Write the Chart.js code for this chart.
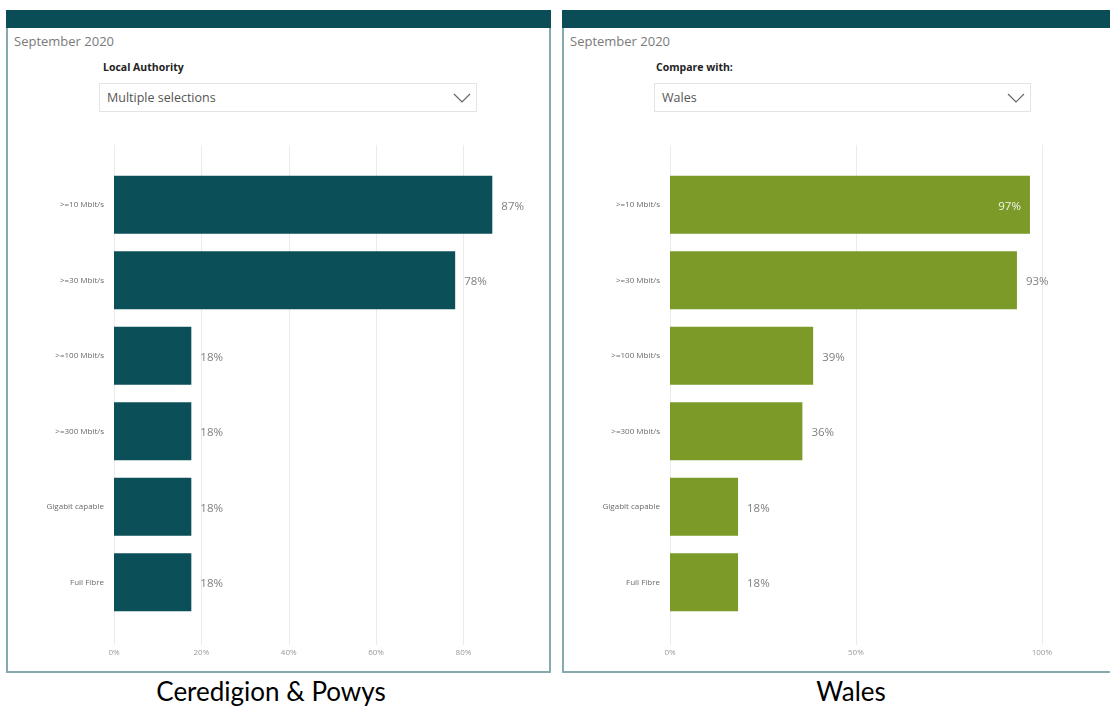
<!DOCTYPE html>
<html>
<head>
<meta charset="utf-8">
<script src="https://cdn.jsdelivr.net/npm/chart.js@4"></script>
<style>
  html, body { margin:0; padding:0; background:#fff; width:1110px; height:706px; overflow:hidden; font-family:"Open Sans", sans-serif; }
  .panel { position:absolute; border:2px solid #86aab0; box-sizing:border-box; background:#fff; }
  .hdr { position:absolute; left:-2px; right:-2px; top:-2px; height:18px; background:#0b4d57; }
  .date { position:absolute; font-size:13px; color:#7a7a7a; }
  .lbl { position:absolute; font-size:10.5px; font-weight:bold; color:#222; }
  .dd { position:absolute; border:1px solid #e4e4e4; box-sizing:border-box; height:29px; }
  .dd span { position:absolute; left:7px; top:5px; font-size:12.5px; color:#555; }
  .dd svg { position:absolute; right:5px; top:9px; }
  .cv { position:absolute; }
  .title { position:absolute; font-family:Lato, sans-serif; font-size:26px; color:#000; transform:translateX(-50%); white-space:nowrap; }
</style>
</head>
<body>
<div class="panel" style="left:6px; top:10px; width:545px; height:663px;">
  <div class="hdr"></div>
</div>
<div class="panel" style="left:562px; top:10px; width:552px; height:663px;">
  <div class="hdr"></div>
</div>

<div class="date" style="left:14px; top:32px;">September 2020</div>
<div class="lbl" style="left:103px; top:60px;">Local Authority</div>
<div class="dd" style="left:99px; top:83px; width:378px;"><span>Multiple selections</span>
  <svg width="18" height="10"><polyline points="1,1 9,9 17,1" fill="none" stroke="#666" stroke-width="1.2"/></svg></div>

<div class="date" style="left:570px; top:32px;">September 2020</div>
<div class="lbl" style="left:656px; top:60px;">Compare with:</div>
<div class="dd" style="left:654px; top:83px; width:377px;"><span>Wales</span>
  <svg width="18" height="10"><polyline points="1,1 9,9 17,1" fill="none" stroke="#666" stroke-width="1.2"/></svg></div>

<canvas id="c1" class="cv" style="left:8px; top:140px;" width="540" height="528"></canvas>
<canvas id="c2" class="cv" style="left:564px; top:140px;" width="544" height="528"></canvas>

<div class="title" style="left:271px; top:675px;">Ceredigion &amp; Powys</div>
<div class="title" style="left:851px; top:675px;">Wales</div>

<script>
const categories = [">=10 Mbit/s", ">=30 Mbit/s", ">=100 Mbit/s", ">=300 Mbit/s", "Gigabit capable", "Full Fibre"];
const ceredigionPowys = [86.6, 78.1, 17.7, 17.7, 17.7, 17.7];
const wales = [96.8, 93.3, 38.5, 35.6, 18.3, 18.3];
const leftTicks = [0, 20, 40, 60, 80];
const rightTicks = [0, 50, 100];

const gridPlugin = {
  id: 'extGrid',
  beforeDatasetsDraw(chart) {
    const ctx = chart.ctx, x = chart.scales.x, a = chart.chartArea;
    ctx.save();
    ctx.strokeStyle = '#ebebeb';
    ctx.lineWidth = 1;
    x.ticks.forEach(t => {
      const px = Math.round(x.getPixelForValue(t.value)) + 0.5;
      ctx.beginPath();
      ctx.moveTo(px, a.top - 22);
      ctx.lineTo(px, a.bottom + 25);
      ctx.stroke();
    });
    ctx.restore();
  }
};

const labelPlugin = {
  id: 'valLabels',
  afterDatasetsDraw(chart) {
    const ctx = chart.ctx, a = chart.chartArea;
    const meta = chart.getDatasetMeta(0);
    const data = chart.data.datasets[0].data;
    ctx.save();
    ctx.font = '11.5px "Open Sans", sans-serif';
    ctx.textBaseline = 'middle';
    meta.data.forEach((bar, i) => {
      const txt = Math.round(data[i]) + '%';
      const w = ctx.measureText(txt).width;
      let x = bar.x + 9;
      if (x + w > a.right) {
        x = bar.x - 9 - w;
        ctx.fillStyle = '#f3f3ea';
      } else {
        ctx.fillStyle = '#7f7f7f';
      }
      ctx.textAlign = 'left';
      ctx.fillText(txt, x, bar.y + 1.5);
    });
    ctx.restore();
  }
};

function makeChart(id, values, color, max, ticks, step, padRight) {
  return new Chart(document.getElementById(id), {
    type: 'bar',
    data: {
      labels: categories,
      datasets: [{ data: values, backgroundColor: color, barPercentage: 0.77, categoryPercentage: 1.0 }]
    },
    options: {
      indexAxis: 'y',
      responsive: false,
      animation: false,
      layout: { padding: { top: 27, right: padRight, left: 0, bottom: 0 } },
      plugins: { legend: { display: false }, tooltip: { enabled: false } },
      scales: {
        y: {
          grid: { display: false, drawTicks: false },
          border: { display: false },
          ticks: { padding: 10, color: '#6a6a6a', font: { family: '"Open Sans", sans-serif', size: 8 } },
          afterFit(s) { s.width = 106; }
        },
        x: {
          min: 0, max: max,
          grid: { display: false, drawTicks: false },
          border: { display: false },
          afterBuildTicks(s) { s.ticks = ticks.map(v => ({ value: v })); },
          ticks: {
            stepSize: step, includeBounds: false, padding: 28,
            color: '#9a9a9a', font: { family: '"Open Sans", sans-serif', size: 8 },
            maxRotation: 0,
            callback: v => v + '%'
          },
          afterFit(s) { s.height = 48; }
        }
      }
    },
    plugins: [gridPlugin, labelPlugin]
  });
}

makeChart('c1', ceredigionPowys, '#0b4f59', 95, leftTicks, 20, 19);
makeChart('c2', wales, '#7b9a28', 103, rightTicks, 50, 55);
</script>
</body>
</html>
